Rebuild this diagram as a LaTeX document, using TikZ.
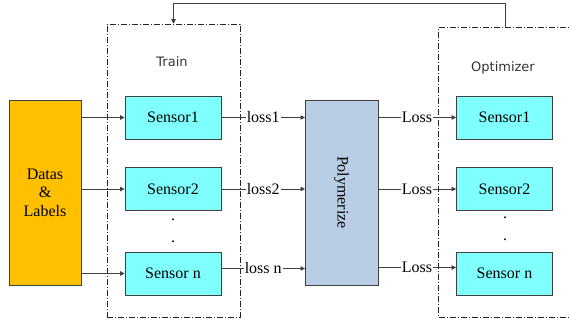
\documentclass[tikz,border=0pt]{standalone}
\usepackage{fontspec}
\setmainfont{Liberation Serif}
\newfontfamily\framefont{DejaVu Sans}
\usetikzlibrary{arrows.meta}

\definecolor{sensorfill}{HTML}{80FFFF}
\definecolor{datafill}{HTML}{FFC000}
\definecolor{polyfill}{HTML}{B9CDE5}
\definecolor{wirecol}{HTML}{404040}

\tikzset{
  frame/.style={draw=black!85, line width=0.6pt,
    dash pattern=on 6pt off 2pt on 1pt off 2pt, inner sep=0pt},
  framelabel/.style={font=\framefont\fontsize{13}{15}\selectfont, text=black!80},
  sensorbox/.style={draw=wirecol, line width=0.8pt, fill=sensorfill,
    minimum width=96pt, minimum height=43pt, inner sep=0pt,
    font=\fontsize{16}{19}\selectfont},
  bigbox/.style={draw=wirecol, line width=0.8pt, minimum width=73pt,
    minimum height=185pt, inner sep=0pt, font=\fontsize{16}{18.5}\selectfont,
    align=center},
  wire/.style={draw=wirecol, line width=0.8pt},
  arrowwire/.style={wire, -{Triangle[length=4.5pt,width=4.5pt]}},
  losslabel/.style={fill=white, inner sep=1pt, font=\fontsize{16}{19}\selectfont},
  dotmark/.style={font=\fontsize{16}{19}\selectfont, anchor=base, inner sep=0pt}
}

\begin{document}
\begin{tikzpicture}[x=1pt,y=-1pt]
\useasboundingbox (0,0) rectangle (569,324);

% dash-dot frames
\node[frame, minimum width=133pt, minimum height=293pt] (train) at (173.5,170.5) {};
\node[frame, minimum width=133pt, minimum height=290pt] (opt) at (505,172) {};
\node[framelabel] (trainlbl) at (172,62) {Train};
\node[framelabel] (optlbl) at (503,68) {Optimizer};

% input and aggregation blocks
\node[bigbox, fill=datafill, minimum width=72pt] (data) at (45,192.5) {Datas\\\&\\Labels};
\node[bigbox, fill=polyfill, minimum width=185pt, minimum height=73pt, rotate=-90] (poly) at (341.5,192.5) {Polymerize};
\coordinate (polyW) at (305,192.5);
\coordinate (polyE) at (378,192.5);

% sensors in the training frame
\node[sensorbox] (ts1) at (173,117.5) {Sensor1};
\node[sensorbox] (ts2) at (173,189) {Sensor2};
\node[sensorbox] (tsn) at (173,273.5) {Sensor n};
\node[dotmark] (td1) at (173,220) {.};
\node[dotmark] (td2) at (173,242) {.};

% sensors in the optimizer frame
\node[sensorbox] (os1) at (504.5,117.5) {Sensor1};
\node[sensorbox] (os2) at (504.5,189) {Sensor2};
\node[sensorbox] (osn) at (504.5,273.5) {Sensor n};
\node[dotmark] (od1) at (505,218) {.};
\node[dotmark] (od2) at (505,240) {.};

% data to sensors
\draw[arrowwire] (data.east |- ts1) -- (ts1.west);
\draw[arrowwire] (data.east |- ts2) -- (ts2.west);
\draw[arrowwire] (data.east |- tsn) -- (tsn.west);

% sensor losses into the aggregation block
\draw[arrowwire] (ts1.east) -- node[losslabel] {loss1} (ts1.east -| polyW);
\draw[arrowwire] (ts2.east) -- node[losslabel] {loss2} (ts2.east -| polyW);
\draw[arrowwire] ([yshift=5pt]tsn.east) -- node[losslabel] {loss n} ([yshift=5pt]tsn.east -| polyW);

% aggregated loss to the optimizer sensors
\draw[arrowwire] (os1.west -| polyE) -- node[losslabel] {Loss} (os1.west);
\draw[arrowwire] (os2.west -| polyE) -- node[losslabel] {Loss} (os2.west);
\draw[arrowwire] ([yshift=6pt]osn.west -| polyE) -- node[losslabel] {Loss} ([yshift=6pt]osn.west);

% feedback from the optimizer to training
\coordinate (fbtop) at (0,3);
\draw[arrowwire] (opt.north) -- (opt.north |- fbtop) -| (train.north);
\end{tikzpicture}
\end{document}
